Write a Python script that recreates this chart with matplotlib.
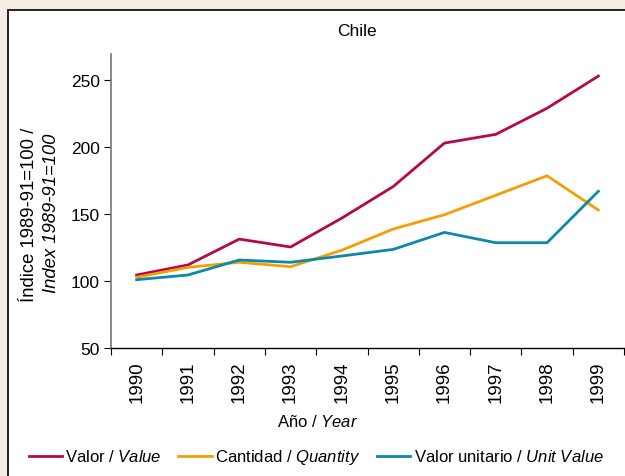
import matplotlib.pyplot as plt
from matplotlib.patches import Rectangle
import numpy as np

plt.rcParams['font.family'] = ['Liberation Sans', 'DejaVu Sans']
plt.rcParams['mathtext.fontset'] = 'custom'
plt.rcParams['mathtext.rm'] = 'Liberation Sans'
plt.rcParams['mathtext.it'] = 'Liberation Sans:italic'

# ── Data ─────────────────────────────────────────────────────────────────
years     = ['1990', '1991', '1992', '1993', '1994', '1995', '1996', '1997', '1998', '1999']
valor     = [104.5, 112.0, 131.3, 125.4, 147.0, 170.5, 203.0, 209.5, 229.0, 253.0]
cantidad  = [102.8, 110.2, 114.0, 110.7, 123.0, 138.8, 149.5, 164.0, 178.6, 153.0]
unitario  = [101.0, 104.5, 115.7, 114.0, 118.7, 123.6, 136.3, 128.6, 128.6, 167.0]
yticks    = [50, 100, 150, 200, 250]

RED    = '#B5084A'
ORANGE = '#F29F05'
TEAL   = '#0E88A8'

# ── Figure & panel ───────────────────────────────────────────────────────
fig = plt.figure(figsize=(6.25, 4.77), dpi=100)
fig.patch.set_facecolor('#F5ECE2')
fig.patches.append(Rectangle((8 / 625, -0.1), 1.2, 1 - 11 / 477 + 0.1,
                             transform=fig.transFigure, facecolor='white',
                             edgecolor='black', linewidth=1.2, zorder=-5))

ax = fig.add_axes([111 / 625, 1 - 349 / 477, 513 / 625, 294 / 477])
ax.set_facecolor('none')
ax.set_zorder(2)

x = np.arange(len(years))
ax.plot(x, valor, color=RED, lw=2, label='Valor / $\\it{Value}$')
ax.plot(x, cantidad, color=ORANGE, lw=2, label='Cantidad / $\\it{Quantity}$')
ax.plot(x, unitario, color=TEAL, lw=2, label='Valor unitario / $\\it{Unit\\ Value}$')

ax.set_xlim(-0.5, len(years) - 0.5)
ax.set_ylim(50, 269.5)

# x ticks sit on category boundaries, labels at centres
ax.set_xticks(np.arange(len(years) + 1) - 0.5)
ax.set_xticklabels([])
ax.set_xticks(x, minor=True)
ax.set_xticklabels(years, minor=True, rotation=90, fontsize=13.5)
ax.tick_params(axis='x', which='minor', length=0, pad=9)
ax.tick_params(axis='x', which='major', length=5, color='black', direction='out')

ax.set_yticks(yticks)
ax.set_yticklabels([str(v) for v in yticks], fontsize=12.5)
ax.tick_params(axis='y', length=5, color='black', pad=3)

for s in ['top', 'right']:
    ax.spines[s].set_visible(False)
ax.spines['left'].set_color('#808080')
ax.spines['left'].set_linewidth(1.3)
ax.spines['bottom'].set_color('black')
ax.spines['bottom'].set_linewidth(1.0)

# ── Texts ────────────────────────────────────────────────────────────────
fig.text(357 / 625, 1 - 32 / 477, 'Chile', ha='center', va='center', fontsize=12.5)
fig.text(318 / 625, 1 - 422 / 477, 'Año / $\\it{Year}$', ha='center', va='center', fontsize=12)
fig.text(30 / 625, 1 - 215 / 477, 'Índice 1989-91=100 /', rotation=90,
         ha='center', va='center', fontsize=13.3)
fig.text(52 / 625, 1 - 213 / 477, 'Index 1989-91=100', rotation=90,
         ha='center', va='center', fontsize=13.3, fontstyle='italic')

fig.legend(loc='center', bbox_to_anchor=(316 / 625, 1 - 458 / 477), ncol=3,
           frameon=False, fontsize=12, handlelength=2.0, handletextpad=0.2,
           columnspacing=1.0, borderaxespad=0, borderpad=0)

fig.savefig('out.png', dpi=100, facecolor=fig.get_facecolor())
